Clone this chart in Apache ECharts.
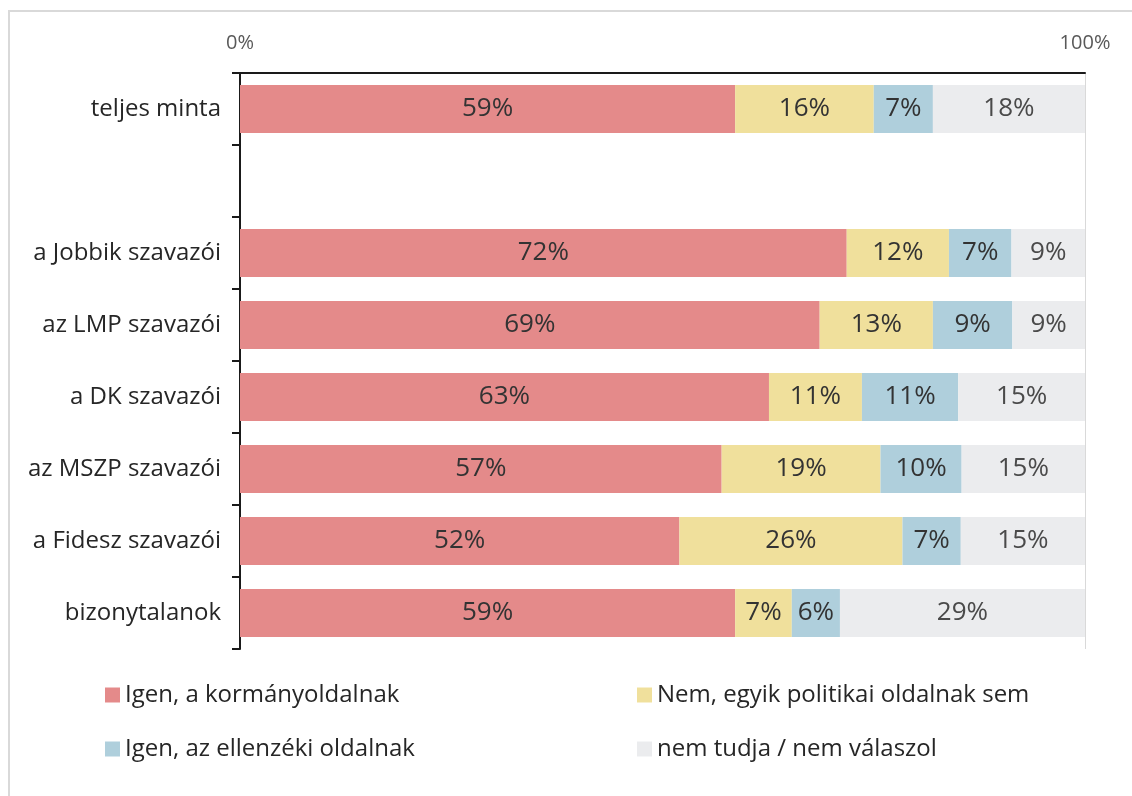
<!DOCTYPE html>
<html>
<head>
<meta charset="utf-8">
<script src="https://cdn.jsdelivr.net/npm/echarts@6/dist/echarts.min.js"></script>
<style>
html,body{margin:0;padding:0;background:#fff;}
#frame{position:absolute;left:8px;top:10px;width:1140px;height:800px;border:2px solid #d9d9d9;box-sizing:border-box;}
#chart{position:absolute;left:0;top:0;width:1132px;height:796px;}
</style>
</head>
<body>
<div id="frame"></div>
<div id="chart"></div>
<script>
const categories = ['teljes minta', '', 'a Jobbik szavazói', 'az LMP szavazói', 'a DK szavazói', 'az MSZP szavazói', 'a Fidesz szavazói', 'bizonytalanok'];
const seriesNames = ['Igen, a kormányoldalnak', 'Nem, egyik politikai oldalnak sem', 'Igen, az ellenzéki oldalnak', 'nem tudja / nem válaszol'];
const igenKormany = [58.6, null, 71.8, 68.6, 62.6, 57.0, 52.0, 58.6];
const nemEgyik    = [16.4, null, 12.1, 13.4, 11.0, 18.8, 26.4, 6.7];
const igenEllenzek= [7.0,  null, 7.4,  9.4,  11.4, 9.6,  6.9,  5.7];
const nemTudja    = [18.0, null, 8.7,  8.6,  15.0, 14.6, 14.7, 29.0];
const axisTicks = [0, 100];

const colors = ['#E48A8A', '#F0E09C', '#AFCFDC', '#EBECEE'];
const labelColors = ['#333333', '#333333', '#333333', '#4a4a4a'];
const values = [igenKormany, nemEgyik, igenEllenzek, nemTudja];
const FONT = '"Open Sans", Lato, sans-serif';

const chart = echarts.init(document.getElementById('chart'), null, {renderer: 'canvas'});
chart.setOption({
  animation: false,
  textStyle: {fontFamily: FONT},
  grid: {left: 240, right: 47, top: 73, bottom: 147},
  legend: [
    {
      data: [seriesNames[0], seriesNames[2]],
      orient: 'vertical', left: 100, top: 678, itemGap: 30,
      itemWidth: 15, itemHeight: 15, icon: 'rect',
      textStyle: {fontSize: 24, color: '#262626', fontFamily: FONT, padding: [0,0,0,0]}
    },
    {
      data: [seriesNames[1], seriesNames[3]],
      orient: 'vertical', left: 632, top: 678, itemGap: 30,
      itemWidth: 15, itemHeight: 15, icon: 'rect',
      textStyle: {fontSize: 24, color: '#262626', fontFamily: FONT, padding: [0,0,0,0]}
    }
  ],
  xAxis: {
    type: 'value', position: 'top',
    min: axisTicks[0], max: axisTicks[1], interval: 100,
    axisLine: {show: true, lineStyle: {color: '#1a1a1a', width: 2}},
    axisTick: {show: false},
    axisLabel: {formatter: '{value}%', fontSize: 20, color: '#595959', margin: 20, fontFamily: FONT},
    splitLine: {show: true, lineStyle: {color: '#d9d9d9', width: 1}}
  },
  yAxis: {
    type: 'category', inverse: true, data: categories,
    axisLine: {show: true, lineStyle: {color: '#1a1a1a', width: 2}},
    axisTick: {show: true, length: 8, interval: 0, lineStyle: {color: '#1a1a1a', width: 2}},
    axisLabel: {fontSize: 24, color: '#262626', margin: 19, fontFamily: FONT, interval: 0}
  },
  series: seriesNames.map((name, i) => ({
    name: name, type: 'bar', stack: 'total', barWidth: 48,
    data: values[i],
    itemStyle: {color: colors[i]},
    label: {
      show: true, position: 'inside',
      fontSize: 26, color: labelColors[i], fontFamily: FONT,
      formatter: p => (p.value == null ? '' : Math.round(p.value) + '%')
    }
  }))
});
</script>
</body>
</html>
